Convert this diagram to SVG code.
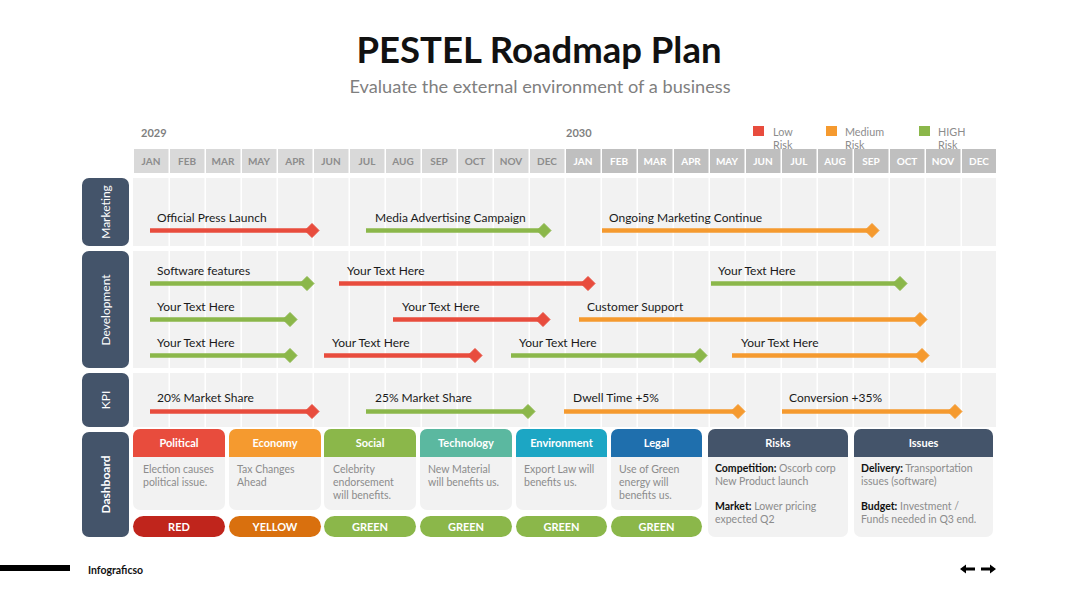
<svg xmlns="http://www.w3.org/2000/svg" width="1080" height="608" viewBox="0 0 1080 608">
<defs>
<style>
text{font-family:Lato,"Open Sans","Liberation Sans",sans-serif}
.title{font-size:36.5px;font-weight:bold;fill:#111}
.sub{font-size:18.2px;fill:#7f7f7f}
.yr{font-size:11px;font-weight:bold;fill:#7f7f7f}
.leg{font-size:10.8px;fill:#8c8c8c}
.m1{font-size:10px;font-weight:bold;fill:#8c8c8c;text-anchor:middle}
.m2{font-size:10px;font-weight:bold;fill:#fff;text-anchor:middle}
.lab{font-size:12px;fill:#fff;text-anchor:middle}
.bl{font-size:12px;fill:#1a1a1a}
.hd{font-size:11px;font-weight:bold;fill:#fff;text-anchor:middle}
.bd{font-size:10.5px;fill:#8c8c8c}
.bk{font-weight:bold;fill:#111}
.pill{font-size:11px;font-weight:bold;fill:#fff;text-anchor:middle}
.rowbg{fill:#f2f2f2}
.side{fill:#44546a}
.r{stroke:#e84c3d;fill:#e84c3d}
.g{stroke:#8bb74a;fill:#8bb74a}
.o{stroke:#f59a2f;fill:#f59a2f}
.bar line{stroke-width:4.5}
.vl{stroke:#fff;stroke-width:1.5}
</style>
</defs>
<rect width="1080" height="608" fill="#fff"/>
<text class="title" x="539" y="63" text-anchor="middle">PESTEL Roadmap Plan</text>
<text class="sub" x="540" y="93" text-anchor="middle">Evaluate the external environment of a business</text>

<g id="header">
<text class="yr" x="141" y="137">2029</text>
<text class="yr" x="566" y="137">2030</text>
<rect x="753" y="126" width="11" height="10" fill="#e84c3d"/>
<text class="leg" x="773" y="136">Low</text><text class="leg" x="773" y="149">Risk</text>
<rect x="826" y="126" width="11" height="10" fill="#f59a2f"/>
<text class="leg" x="845" y="136">Medium</text><text class="leg" x="845" y="149">Risk</text>
<rect x="919" y="126" width="11" height="10" fill="#8bb74a"/>
<text class="leg" x="938" y="136">HIGH</text><text class="leg" x="938" y="149">Risk</text>
<g fill="#d9d9d9">
<rect x="134" y="149" width="34.5" height="24"/><rect x="170" y="149" width="34.5" height="24"/><rect x="206" y="149" width="34.5" height="24"/><rect x="242" y="149" width="34.5" height="24"/><rect x="278" y="149" width="34.5" height="24"/><rect x="314" y="149" width="34.5" height="24"/><rect x="350" y="149" width="34.5" height="24"/><rect x="386" y="149" width="34.5" height="24"/><rect x="422" y="149" width="34.5" height="24"/><rect x="458" y="149" width="34.5" height="24"/><rect x="494" y="149" width="34.5" height="24"/><rect x="530" y="149" width="34.5" height="24"/>
</g>
<g fill="#bfbfbf">
<rect x="566" y="149" width="34.5" height="24"/><rect x="602" y="149" width="34.5" height="24"/><rect x="638" y="149" width="34.5" height="24"/><rect x="674" y="149" width="34.5" height="24"/><rect x="710" y="149" width="34.5" height="24"/><rect x="746" y="149" width="34.5" height="24"/><rect x="782" y="149" width="34.5" height="24"/><rect x="818" y="149" width="34.5" height="24"/><rect x="854" y="149" width="34.5" height="24"/><rect x="890" y="149" width="34.5" height="24"/><rect x="926" y="149" width="34.5" height="24"/><rect x="962" y="149" width="34" height="24"/>
</g>
<text class="m1" x="151" y="165">JAN</text><text class="m1" x="187" y="165">FEB</text><text class="m1" x="223" y="165">MAR</text><text class="m1" x="259" y="165">MAY</text><text class="m1" x="295" y="165">APR</text><text class="m1" x="331" y="165">JUN</text><text class="m1" x="367" y="165">JUL</text><text class="m1" x="403" y="165">AUG</text><text class="m1" x="439" y="165">SEP</text><text class="m1" x="475" y="165">OCT</text><text class="m1" x="511" y="165">NOV</text><text class="m1" x="547" y="165">DEC</text>
<text class="m2" x="583" y="165">JAN</text><text class="m2" x="619" y="165">FEB</text><text class="m2" x="655" y="165">MAR</text><text class="m2" x="691" y="165">APR</text><text class="m2" x="727" y="165">MAY</text><text class="m2" x="763" y="165">JUN</text><text class="m2" x="799" y="165">JUL</text><text class="m2" x="835" y="165">AUG</text><text class="m2" x="871" y="165">SEP</text><text class="m2" x="907" y="165">OCT</text><text class="m2" x="943" y="165">NOV</text><text class="m2" x="979" y="165">DEC</text>
</g>

<g id="row-backgrounds">
<rect class="rowbg" x="133" y="178" width="863" height="68"/>
<rect class="rowbg" x="133" y="251" width="863" height="117"/>
<rect class="rowbg" x="133" y="373" width="863" height="54"/>
<g class="vl">
<path d="M169.2 178V246M205.2 178V246M241.2 178V246M277.2 178V246M313.2 178V246M349.2 178V246M385.2 178V246M421.2 178V246M457.2 178V246M493.2 178V246M529.2 178V246M565.2 178V246M601.2 178V246M637.2 178V246M673.2 178V246M709.2 178V246M745.2 178V246M781.2 178V246M817.2 178V246M853.2 178V246M889.2 178V246M925.2 178V246M961.2 178V246"/>
<path d="M169.2 251V368M205.2 251V368M241.2 251V368M277.2 251V368M313.2 251V368M349.2 251V368M385.2 251V368M421.2 251V368M457.2 251V368M493.2 251V368M529.2 251V368M565.2 251V368M601.2 251V368M637.2 251V368M673.2 251V368M709.2 251V368M745.2 251V368M781.2 251V368M817.2 251V368M853.2 251V368M889.2 251V368M925.2 251V368M961.2 251V368"/>
<path d="M169.2 373V427M205.2 373V427M241.2 373V427M277.2 373V427M313.2 373V427M349.2 373V427M385.2 373V427M421.2 373V427M457.2 373V427M493.2 373V427M529.2 373V427M565.2 373V427M601.2 373V427M637.2 373V427M673.2 373V427M709.2 373V427M745.2 373V427M781.2 373V427M817.2 373V427M853.2 373V427M889.2 373V427M925.2 373V427M961.2 373V427"/>
</g>
</g>

<g id="label-marketing"><rect class="side" x="82" y="178" width="47" height="68" rx="7"/><text class="lab" transform="translate(110 212) rotate(-90)">Marketing</text></g>
<g id="label-development"><rect class="side" x="82" y="251" width="47" height="117" rx="7"/><text class="lab" transform="translate(110 310) rotate(-90)">Development</text></g>
<g id="label-kpi"><rect class="side" x="82" y="373" width="47" height="54" rx="7"/><text class="lab" transform="translate(110 400) rotate(-90)">KPI</text></g>
<g id="label-dashboard"><rect class="side" x="82" y="432" width="47" height="105" rx="7"/><text class="lab" font-weight="bold" transform="translate(110 484.5) rotate(-90)">Dashboard</text></g>

<g id="connectors" class="bar">
<line class="r" x1="150" y1="230.5" x2="310" y2="230.5"/><path class="r" d="M312 223.5L319 230.5L312 237.5L305 230.5Z"/>
<line class="g" x1="366" y1="230.5" x2="542" y2="230.5"/><path class="g" d="M544 223.5L551 230.5L544 237.5L537 230.5Z"/>
<line class="o" x1="602" y1="230.5" x2="870" y2="230.5"/><path class="o" d="M872 223.5L879 230.5L872 237.5L865 230.5Z"/>

<line class="g" x1="150" y1="283.5" x2="305" y2="283.5"/><path class="g" d="M307 276.5L314 283.5L307 290.5L300 283.5Z"/>
<line class="r" x1="339" y1="283.5" x2="586" y2="283.5"/><path class="r" d="M588 276.5L595 283.5L588 290.5L581 283.5Z"/>
<line class="g" x1="711" y1="283.5" x2="898" y2="283.5"/><path class="g" d="M900 276.5L907 283.5L900 290.5L893 283.5Z"/>

<line class="g" x1="150" y1="319.5" x2="288" y2="319.5"/><path class="g" d="M290 312.5L297 319.5L290 326.5L283 319.5Z"/>
<line class="r" x1="393" y1="319.5" x2="541" y2="319.5"/><path class="r" d="M543 312.5L550 319.5L543 326.5L536 319.5Z"/>
<line class="o" x1="579" y1="319.5" x2="918" y2="319.5"/><path class="o" d="M920 312.5L927 319.5L920 326.5L913 319.5Z"/>

<line class="g" x1="150" y1="355.5" x2="288" y2="355.5"/><path class="g" d="M290 348.5L297 355.5L290 362.5L283 355.5Z"/>
<line class="r" x1="324" y1="355.5" x2="473" y2="355.5"/><path class="r" d="M475 348.5L482 355.5L475 362.5L468 355.5Z"/>
<line class="g" x1="511" y1="355.5" x2="698" y2="355.5"/><path class="g" d="M700 348.5L707 355.5L700 362.5L693 355.5Z"/>
<line class="o" x1="732" y1="355.5" x2="920" y2="355.5"/><path class="o" d="M922 348.5L929 355.5L922 362.5L915 355.5Z"/>

<line class="r" x1="150" y1="411.5" x2="310" y2="411.5"/><path class="r" d="M312 404.5L319 411.5L312 418.5L305 411.5Z"/>
<line class="g" x1="366" y1="411.5" x2="526" y2="411.5"/><path class="g" d="M528 404.5L535 411.5L528 418.5L521 411.5Z"/>
<line class="o" x1="564" y1="411.5" x2="736" y2="411.5"/><path class="o" d="M738 404.5L745 411.5L738 418.5L731 411.5Z"/>
<line class="o" x1="782" y1="411.5" x2="953" y2="411.5"/><path class="o" d="M955 404.5L962 411.5L955 418.5L948 411.5Z"/>
</g>

<g id="bar-labels">
<text class="bl" x="157" y="222">Official Press Launch</text>
<text class="bl" x="375" y="222">Media Advertising Campaign</text>
<text class="bl" x="609" y="222">Ongoing Marketing Continue</text>
<text class="bl" x="157" y="275">Software features</text>
<text class="bl" x="347" y="275">Your Text Here</text>
<text class="bl" x="718" y="275">Your Text Here</text>
<text class="bl" x="157" y="311">Your Text Here</text>
<text class="bl" x="402" y="311">Your Text Here</text>
<text class="bl" x="587" y="311">Customer Support</text>
<text class="bl" x="157" y="347">Your Text Here</text>
<text class="bl" x="332" y="347">Your Text Here</text>
<text class="bl" x="519" y="347">Your Text Here</text>
<text class="bl" x="741" y="347">Your Text Here</text>
<text class="bl" x="157" y="402">20% Market Share</text>
<text class="bl" x="375" y="402">25% Market Share</text>
<text class="bl" x="573" y="402">Dwell Time +5%</text>
<text class="bl" x="789" y="402">Conversion +35%</text>
</g>

<g id="card-political">
<rect x="133" y="429" width="92" height="81" rx="7" fill="#f2f2f2"/>
<path d="M133 457V436a7 7 0 0 1 7-7h78a7 7 0 0 1 7 7v21z" fill="#e84c3d"/>
<text class="hd" x="179" y="447">Political</text>
<text class="bd" x="143" y="473">Election causes</text><text class="bd" x="143" y="486">political issue.</text>
<rect x="133" y="516" width="92" height="21" rx="10.5" fill="#c0251c"/><text class="pill" x="179" y="531">RED</text>
</g>
<g id="card-economy">
<rect x="229" y="429" width="92" height="81" rx="7" fill="#f2f2f2"/>
<path d="M229 457V436a7 7 0 0 1 7-7h78a7 7 0 0 1 7 7v21z" fill="#f59a2f"/>
<text class="hd" x="275" y="447">Economy</text>
<text class="bd" x="237" y="473">Tax Changes</text><text class="bd" x="237" y="486">Ahead</text>
<rect x="229" y="516" width="92" height="21" rx="10.5" fill="#d9700e"/><text class="pill" x="275" y="531">YELLOW</text>
</g>
<g id="card-social">
<rect x="324" y="429" width="92" height="81" rx="7" fill="#f2f2f2"/>
<path d="M324 457V436a7 7 0 0 1 7-7h78a7 7 0 0 1 7 7v21z" fill="#8bb74a"/>
<text class="hd" x="370" y="447">Social</text>
<text class="bd" x="333" y="473">Celebrity</text><text class="bd" x="333" y="486">endorsement</text><text class="bd" x="333" y="499">will benefits.</text>
<rect x="324" y="516" width="92" height="21" rx="10.5" fill="#8bb74a"/><text class="pill" x="370" y="531">GREEN</text>
</g>
<g id="card-technology">
<rect x="420" y="429" width="92" height="81" rx="7" fill="#f2f2f2"/>
<path d="M420 457V436a7 7 0 0 1 7-7h78a7 7 0 0 1 7 7v21z" fill="#5bb8a0"/>
<text class="hd" x="466" y="447">Technology</text>
<text class="bd" x="428" y="473">New Material</text><text class="bd" x="428" y="486">will benefits us.</text>
<rect x="420" y="516" width="92" height="21" rx="10.5" fill="#8bb74a"/><text class="pill" x="466" y="531">GREEN</text>
</g>
<g id="card-environment">
<rect x="516" y="429" width="91" height="81" rx="7" fill="#f2f2f2"/>
<path d="M516 457V436a7 7 0 0 1 7-7h77a7 7 0 0 1 7 7v21z" fill="#1ca6c4"/>
<text class="hd" x="561.5" y="447">Environment</text>
<text class="bd" x="524" y="473">Export Law will</text><text class="bd" x="524" y="486">benefits us.</text>
<rect x="516" y="516" width="91" height="21" rx="10.5" fill="#8bb74a"/><text class="pill" x="561.5" y="531">GREEN</text>
</g>
<g id="card-legal">
<rect x="611" y="429" width="91" height="81" rx="7" fill="#f2f2f2"/>
<path d="M611 457V436a7 7 0 0 1 7-7h77a7 7 0 0 1 7 7v21z" fill="#1f6fad"/>
<text class="hd" x="656.5" y="447">Legal</text>
<text class="bd" x="619" y="473">Use of Green</text><text class="bd" x="619" y="486">energy will</text><text class="bd" x="619" y="499">benefits us.</text>
<rect x="611" y="516" width="91" height="21" rx="10.5" fill="#8bb74a"/><text class="pill" x="656.5" y="531">GREEN</text>
</g>
<g id="card-risks">
<rect x="708" y="429" width="140" height="108" rx="7" fill="#f2f2f2"/>
<path d="M708 457V436a7 7 0 0 1 7-7h126a7 7 0 0 1 7 7v21z" fill="#44546a"/>
<text class="hd" x="778" y="447">Risks</text>
<text class="bd" x="715" y="472"><tspan class="bk">Competition:</tspan> Oscorb corp</text><text class="bd" x="715" y="485">New Product launch</text>
<text class="bd" x="715" y="510"><tspan class="bk">Market:</tspan> Lower pricing</text><text class="bd" x="715" y="523">expected Q2</text>
</g>
<g id="card-issues">
<rect x="854" y="429" width="139" height="108" rx="7" fill="#f2f2f2"/>
<path d="M854 457V436a7 7 0 0 1 7-7h125a7 7 0 0 1 7 7v21z" fill="#44546a"/>
<text class="hd" x="923.5" y="447">Issues</text>
<text class="bd" x="861" y="472"><tspan class="bk">Delivery:</tspan> Transportation</text><text class="bd" x="861" y="485">issues (software)</text>
<text class="bd" x="861" y="510"><tspan class="bk">Budget:</tspan> Investment /</text><text class="bd" x="861" y="523">Funds needed in Q3 end.</text>
</g>

<g id="footer">
<rect x="0" y="565" width="70" height="6" fill="#000"/>
<text x="88" y="574" font-size="10.5" font-weight="bold" fill="#111">Infograficso</text>
<path d="M960 569l6-4.5v3h9v3h-9v3z" fill="#000"/>
<path d="M996 569l-6-4.5v3h-9v3h9v3z" fill="#000"/>
</g>
</svg>
